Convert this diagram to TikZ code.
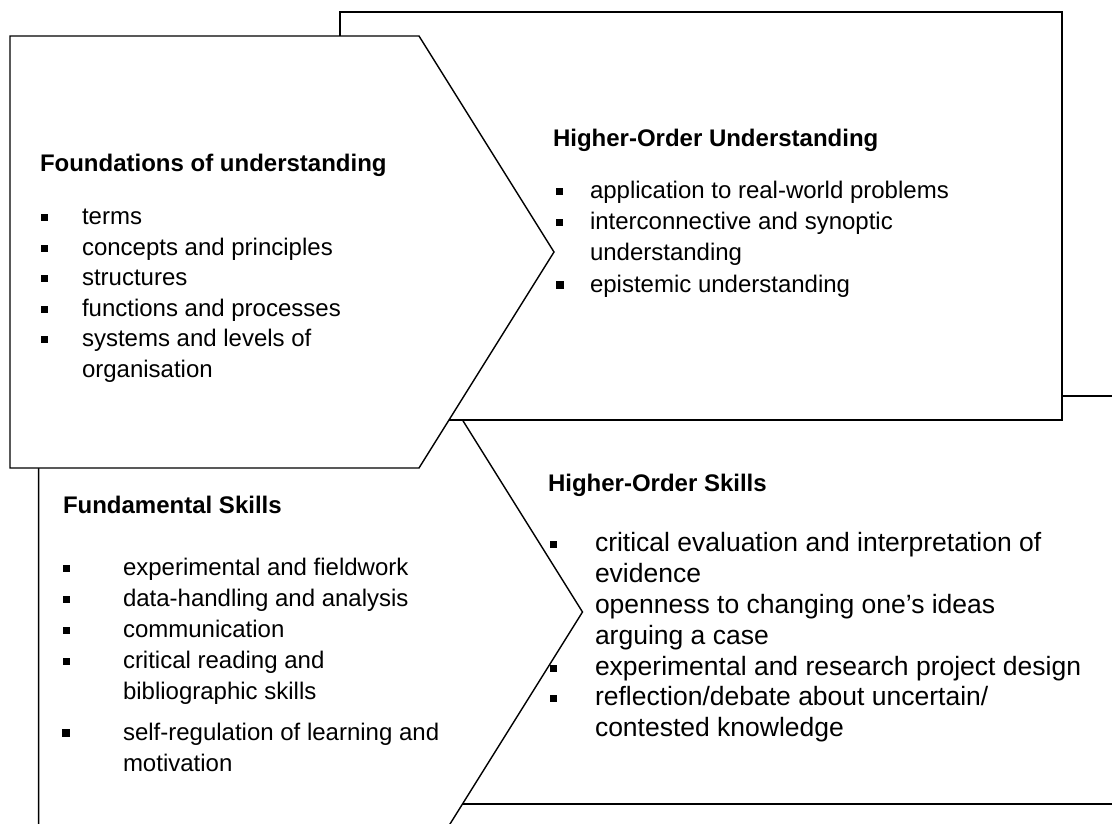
\documentclass[tikz,border=0pt]{standalone}
\usepackage{fontspec}
\setmainfont{Liberation Sans}
\begin{document}
\begin{tikzpicture}[x=1pt,y=-1pt]
\tikzset{
  panel/.style={draw=black, fill=white, line width=1.4pt, line join=miter},
  txt/.style={anchor=base west, inner sep=0pt, outer sep=0pt, font=\fontsize{24}{30}\selectfont},
  bigtxt/.style={txt, font=\fontsize{26.5}{31}\selectfont},
  head/.style={txt, font=\fontsize{24}{30}\selectfont\bfseries},
  bul/.style={rectangle, fill=black, draw=none, inner sep=0pt, minimum size=7pt},
  bigbul/.style={bul, minimum size=8.5pt}
}
\useasboundingbox (0,0) rectangle (1112,823);
\begin{scope}
\clip (0,0) rectangle (1112,823);

% ---------- bottom-right: Higher-Order Skills ----------
\draw[panel] (420,396) rectangle (1142,804);
\node[head] (hosh) at (548,491) {Higher-Order Skills};
\node[bul] (hb1) at (553,544) {};
\node[bigtxt] (hs1a) at (595,551) {critical evaluation and interpretation of};
\node[bigtxt] (hs1b) at (595,582) {evidence};
\node[bul] (hb2) at (553,606) {};
\node[bigtxt] (hs2) at (595,613) {openness to changing one’s ideas};
\node[bul] (hb3) at (553,637) {};
\node[bigtxt] (hs3) at (595,644) {arguing a case};
\node[bul] (hb4) at (553,668) {};
\node[bigtxt] (hs4) at (595,675) {experimental and research project design};
\node[bul] (hb5) at (553,698) {};
\node[bigtxt] (hs5a) at (595,705) {reflection/debate about uncertain/};
\node[bigtxt] (hs5b) at (595,736) {contested knowledge};

% ---------- bottom-left: Fundamental Skills ----------
\draw[panel] (38.6,396) -- (447.5,396) -- (582.5,612) -- (447.5,828) -- (38.6,828) -- cycle;
\node[head] (fsh) at (63,513) {Fundamental Skills};
\node[bul] (fb1) at (66,568) {};
\node[txt] (fs1) at (123,575) {experimental and fieldwork};
\node[bul] (fb2) at (66,599) {};
\node[txt] (fs2) at (123,606) {data-handling and analysis};
\node[bul] (fb3) at (66,630) {};
\node[txt] (fs3) at (123,637) {communication};
\node[bul] (fb4) at (66,661) {};
\node[txt] (fs4a) at (123,668) {critical reading and};
\node[txt] (fs4b) at (123,699) {bibliographic skills};
\node[bigbul] (fb5) at (66,733) {};
\node[txt] (fs5a) at (123,740) {self-regulation of learning and};
\node[txt] (fs5b) at (123,771) {motivation};

% ---------- top-right: Higher-Order Understanding ----------
\draw[panel] (340,12) rectangle (1062,420);
\node[head] (houh) at (553,146) {Higher-Order Understanding};
\node[bul] (ub1) at (559,191) {};
\node[txt] (hu1) at (590,198) {application to real-world problems};
\node[bul] (ub2) at (559,222) {};
\node[txt] (hu2a) at (590,229) {interconnective and synoptic};
\node[txt] (hu2b) at (590,260) {understanding};
\node[bigbul] (ub3) at (560,285) {};
\node[txt] (hu3) at (590,292) {epistemic understanding};

% ---------- top-left: Foundations of understanding ----------
\draw[panel] (10,36) -- (419,36) -- (554,252) -- (419,468) -- (10,468) -- cycle;
\node[head] (fuh) at (40,171) {Foundations of understanding};
\node[bul] (tb1) at (44,217) {};
\node[txt] (fu1) at (82,224) {terms};
\node[bul] (tb2) at (44,248) {};
\node[txt] (fu2) at (82,255) {concepts and principles};
\node[bul] (tb3) at (44,278) {};
\node[txt] (fu3) at (82,285) {structures};
\node[bul] (tb4) at (44,309) {};
\node[txt] (fu4) at (82,316) {functions and processes};
\node[bul] (tb5) at (44,339) {};
\node[txt] (fu5a) at (82,346) {systems and levels of};
\node[txt] (fu5b) at (82,377) {organisation};
\end{scope}
\end{tikzpicture}
\end{document}
